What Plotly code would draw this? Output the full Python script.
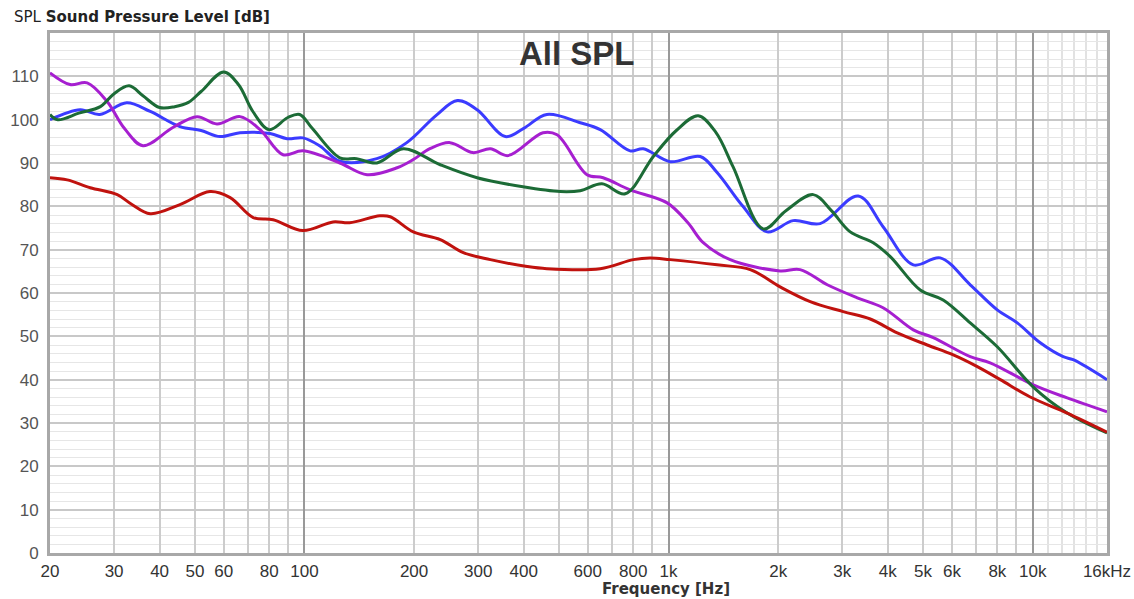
import math
import plotly.graph_objects as go

# ---- data ----
green_f = [20, 21, 24, 27.5, 30, 33, 36, 40, 44, 48, 52, 60, 66, 72, 80, 90, 97, 105, 125, 139, 158, 187,
           236, 298, 398, 504, 572, 656, 760, 908, 1050, 1206, 1350, 1504, 1820, 2100, 2496, 2800, 3154,
           3648, 4063, 4910, 5678, 6737, 7993, 10040, 12440, 16000]
green_db = [101.2, 100, 101.5, 103, 106, 107.8, 105.5, 102.8, 103, 104, 106.5, 111, 108, 102, 97.7, 100.5, 101.2,
            98, 91.2, 91, 90, 93.3, 89.6, 86.6, 84.5, 83.4, 83.6, 85.2, 82.9, 91.5, 97.5, 100.9, 97, 89.1, 74.8,
            79, 82.7, 79, 74.1, 71.6, 68.4, 60.7, 58.4, 53.1, 47.6, 38.3, 32.3, 27.7]

blue_f = [20, 24.2, 27.4, 32.5, 37.7, 45.5, 52, 58.6, 66.5, 80.4, 89.6, 99, 110, 125, 158, 191, 230, 263, 298,
          356, 400, 463, 572, 649, 784, 852, 1010, 1222, 1359, 1600, 1866, 2199, 2608, 3318, 3882, 4700, 5572,
          6737, 7993, 9072, 10490, 12130, 12920, 16000]
blue_db = [100, 102.3, 101.2, 103.9, 101.9, 98.4, 97.5, 96.1, 97, 96.8, 95.6, 95.8, 94, 90.4, 91, 94.7, 101,
           104.4, 102.3, 96.1, 98, 101.2, 99.3, 97.7, 92.8, 93.3, 90.3, 91.5, 87.8, 80, 74.1, 76.7, 76, 82.4,
           75.3, 66.5, 68.1, 61.9, 56.1, 53.1, 48.5, 45.3, 44.6, 40]

purple_f = [20, 22.7, 25.3, 28.7, 32, 36, 43.5, 50.7, 57.5, 66.5, 75.5, 87.3, 99, 125, 148.6, 179.6, 199, 221,
            251, 290, 324, 362, 452, 494, 597, 661, 784, 991, 1130, 1245, 1476, 2024, 2297, 2728, 3297, 3882,
            4700, 5332, 6737, 7640, 10040, 12440, 16000]
purple_db = [110.8, 108.1, 108.5, 104.2, 98, 94, 98.2, 100.7, 99, 100.7, 97.7, 91.9, 92.8, 90, 87.3, 88.9, 90.8,
             93.3, 94.7, 92.4, 93.3, 91.7, 97, 96.5, 87.3, 86.6, 83.8, 80.8, 76.2, 71.6, 67.7, 65.1, 65.4, 61.9,
             58.9, 56.6, 51.5, 49.7, 45.3, 43.9, 38.8, 35.8, 32.6]

red_f = [20, 22.3, 25.8, 30.6, 33.5, 37.7, 45.5, 55, 62.5, 72.3, 82, 99, 119.8, 133, 161, 172, 199, 236, 273,
         324, 409, 463, 649, 800, 889, 1010, 1359, 1676, 2024, 2449, 3017, 3580, 4246, 5133, 6052, 7045, 8148,
         9844, 12440, 16000]
red_db = [86.6, 86.1, 84.3, 82.7, 80.5, 78.3, 80.4, 83.4, 82, 77.4, 76.9, 74.4, 76.4, 76.2, 77.8, 77.6, 74.1,
          72.3, 69.3, 67.7, 66.1, 65.6, 65.6, 67.7, 68.1, 67.7, 66.5, 65.4, 61.4, 58, 55.7, 54, 50.8, 48, 45.7,
          43, 40, 36, 32.3, 27.9]

x_tickvals = [20, 30, 40, 50, 60, 70, 80, 90, 100, 200, 300, 400, 500, 600, 700, 800, 900, 1000,
              2000, 3000, 4000, 5000, 6000, 7000, 8000, 9000, 10000, 16000]
x_ticktext = ["20", "30", "40", "50", "60", "", "80", "", "100", "200", "300", "400", "", "600", "", "800", "",
              "1k", "2k", "3k", "4k", "5k", "6k", "", "8k", "", "10k", "16kHz"]
x_minor = [11000, 12000, 13000, 14000, 15000]
x_decades = [100, 1000, 10000]
y_tickvals = [0, 10, 20, 30, 40, 50, 60, 70, 80, 90, 100, 110]

series = [
    (blue_f, blue_db, "#3b3bff"),
    (purple_f, purple_db, "#a61fd0"),
    (green_f, green_db, "#1c6b36"),
    (red_f, red_db, "#c0120e"),
]

fig = go.Figure()
for f, db, col in series:
    fig.add_trace(go.Scatter(x=f, y=db, mode="lines",
                             line=dict(color=col, width=3, shape="spline", smoothing=1.0),
                             hoverinfo="skip", showlegend=False))

# invisible trace to anchor the decade grid axis
fig.add_trace(go.Scatter(x=[20, 16000], y=[0, 0], xaxis="x2", mode="lines",
                         line=dict(width=0), opacity=0, hoverinfo="skip", showlegend=False))

sans = "Liberation Sans, Arial, sans-serif"
dv = "DejaVu Sans, Verdana, sans-serif"
xr = [math.log10(20), math.log10(16000)]

fig.update_layout(
    width=1134, height=599,
    margin=dict(l=50, r=27, t=33, b=46, autoexpand=False),
    paper_bgcolor="white", plot_bgcolor="white",
    font=dict(family=sans, size=14, color="#555555"),
    xaxis=dict(type="log", range=xr, tickvals=x_tickvals, ticktext=x_ticktext, automargin=False,
               showgrid=True, gridcolor="#cccccc", gridwidth=1.5,
               showline=True, linecolor="#a8a8a8", linewidth=3, mirror=True,
               ticks="", ticklabelstandoff=1, zeroline=False,
               tickfont=dict(family=sans, size=17, color="#333333"),
               minor=dict(tickvals=x_minor, showgrid=True, gridcolor="#e2e2e2", gridwidth=1.5, ticks="")),
    xaxis2=dict(type="log", range=xr, overlaying="x", tickvals=x_decades, showticklabels=False,
                showgrid=True, gridcolor="#999999", gridwidth=1.5, showline=False, zeroline=False,
                ticks="", layer="below traces", automargin=False),
    yaxis=dict(range=[0, 120], tickvals=y_tickvals, showgrid=True, gridcolor="#c8c8c8", gridwidth=1.5,
               showline=True, linecolor="#a8a8a8", linewidth=3, mirror=True, zeroline=False,
               ticks="", ticklabelstandoff=5, automargin=False,
               tickfont=dict(family=sans, size=17, color="#555555"),
               minor=dict(dtick=2, showgrid=True, gridcolor="#e6e6e6", gridwidth=1, ticks="")),
    annotations=[
        dict(text="<b>All SPL</b>", xref="paper", yref="paper", x=0.4986, y=0.9615,
             xanchor="center", yanchor="middle", showarrow=False,
             font=dict(family=sans, size=33, color="#333333")),
        dict(text="SPL <b>Sound Pressure Level [dB]</b>", xref="paper", yref="paper",
             x=-0.036, y=1.0308, xanchor="left", yanchor="middle", showarrow=False,
             font=dict(family=dv, size=15, color="#222222")),
        dict(text="<b>Frequency [Hz]</b>", xref="paper", yref="paper", x=0.5830, y=-0.0692,
             xanchor="center", yanchor="middle", showarrow=False,
             font=dict(family=dv, size=15, color="#333333")),
    ],
)

fig.write_html("out.html")
